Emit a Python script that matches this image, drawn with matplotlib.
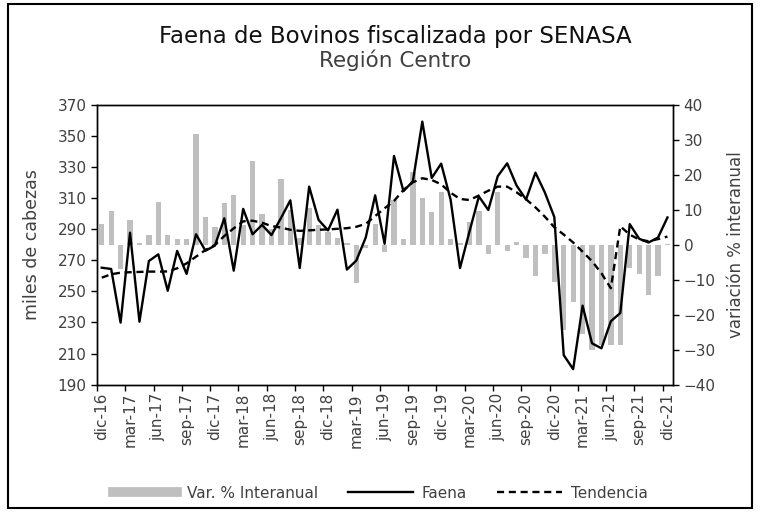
import numpy as np
import matplotlib
matplotlib.use("Agg")
import matplotlib.pyplot as plt
from matplotlib.lines import Line2D
from matplotlib.patches import Rectangle

plt.rcParams['font.family'] = ['DejaVu Sans']

# Monthly data, dic-16 .. dic-21
faena = [265.2, 264.4, 229.9, 287.7, 230.5, 269.5, 273.8, 250.4, 276.0, 261.2,
         286.7, 276.1, 279.4, 297.0, 263.3, 303.0, 286.7, 292.7, 286.2, 297.0,
         308.5, 265.0, 317.3, 295.9, 289.2, 302.5, 264.0, 269.8, 284.6, 311.7,
         280.6, 337.0, 314.4, 320.7, 359.1, 322.9, 332.1, 309.0, 265.0, 288.4,
         311.0, 302.3, 324.0, 332.3, 318.0, 309.0, 326.3, 313.5, 297.8, 209.0,
         200.0, 240.8, 216.6, 213.4, 230.8, 236.1, 293.2, 283.8, 281.4, 284.6,
         297.5]

tendencia = [258.8, 261.0, 262.0, 262.3, 262.5, 262.7, 262.7, 262.8, 264.8, 268.0,
             272.3, 276.6, 279.8, 285.6, 290.5, 295.0, 295.4, 294.1, 292.0, 291.0,
             289.6, 288.9, 289.2, 289.6, 289.8, 290.2, 290.6, 291.5, 293.4, 298.4,
             303.4, 308.1, 315.2, 320.1, 322.7, 321.6, 318.8, 313.4, 309.4, 308.7,
             311.6, 314.7, 317.3, 317.3, 313.7, 309.2, 304.0, 298.0, 291.2, 286.5,
             281.4, 275.5, 269.4, 261.6, 252.0, 291.8, 286.5, 283.3, 282.2, 283.6,
             285.2]

var_interanual = [6.0, 9.6, -7.0, 7.1, 0.6, 2.7, 12.2, 2.7, 1.6, 1.6,
                  31.5, 7.8, 5.1, 11.8, 14.3, 5.6, 23.8, 8.9, 4.5, 18.7,
                  10.0, 1.8, 10.4, 5.5, 3.7, 1.8, 0.4, -10.9, -1.0, 5.8,
                  -2.0, 12.7, 1.5, 20.9, 13.3, 9.2, 15.1, 1.5, 0.5, 6.6,
                  9.6, -2.7, 15.1, -1.7, 0.8, -3.9, -9.0, -2.8, -10.6, -24.4,
                  -16.3, -25.5, -30.1, -28.7, -28.7, -28.7, -6.7, -8.5, -14.3, -8.9,
                  0.3]

tick_labels = ['dic-16', 'mar-17', 'jun-17', 'sep-17', 'dic-17', 'mar-18', 'jun-18',
               'sep-18', 'dic-18', 'mar-19', 'jun-19', 'sep-19', 'dic-19', 'mar-20',
               'jun-20', 'sep-20', 'dic-20', 'mar-21', 'jun-21', 'sep-21', 'dic-21']

txt = '#404040'
x = np.arange(len(faena))

fig = plt.figure(figsize=(7.61, 5.12), dpi=100)
ax = fig.add_axes([0.1275, 0.2486, 0.757, 0.547])
ax2 = ax.twinx()

# bars on the right axis, lines on top on the left axis
ax2.bar(x, var_interanual, width=0.56, color='#BFBFBF', zorder=1)
ax.set_zorder(ax2.get_zorder() + 1)
ax.patch.set_visible(False)

ax.plot(x, faena, color='black', lw=1.7, zorder=3)
ax.plot(x, tendencia, color='black', lw=1.7, ls=(0, (3, 2)), zorder=3)

ax.set_ylim(190, 370)
ax.set_yticks(np.arange(190, 371, 20))
ax2.set_ylim(-40, 40)
ax2.set_yticks(np.arange(-40, 41, 10))
ax.set_xlim(-0.5, 60.6)

ax.set_xticks(x[::3])
ax.set_xticklabels(tick_labels, rotation=90)
ax.set_xticks(np.arange(-0.5, 60, 3), minor=True)
ax.tick_params(axis='x', which='major', length=0, pad=6, labelsize=11, colors=txt)
ax.tick_params(axis='x', which='minor', length=4, width=1)
ax.tick_params(axis='y', length=4, width=1, labelsize=11, colors=txt)
ax2.tick_params(axis='y', length=4, width=1, labelsize=11, colors=txt)
for a in (ax, ax2):
    for s in a.spines.values():
        s.set_linewidth(1.0)
        s.set_color('black')
    a.tick_params(axis='both', color='black')

ax.set_ylabel('miles de cabezas', fontsize=12.5, color=txt, labelpad=12)
ax2.set_ylabel('variación % interanual', fontsize=12, color=txt, labelpad=8)

fig.text(0.519, 0.928, 'Faena de Bovinos fiscalizada por SENASA', ha='center',
         va='center', fontsize=16.5, color='#111111')
fig.text(0.519, 0.883, 'Región Centro', ha='center', va='center', fontsize=15.5, color=txt)

handles = [Line2D([], [], color='#BFBFBF', lw=7),
           Line2D([], [], color='black', lw=1.7),
           Line2D([], [], color='black', lw=1.7, ls=(0, (3, 2)))]
fig.legend(handles, ['Var. % Interanual', 'Faena', 'Tendencia'], loc='center',
           bbox_to_anchor=(0.5, 0.037), ncol=3, frameon=False, fontsize=11,
           handlelength=4.2, handletextpad=0.6, columnspacing=2.0, labelcolor=txt)

fig.patches.append(Rectangle((0.011, 0.008), 0.977, 0.985, transform=fig.transFigure,
                             fill=False, edgecolor='black', lw=1.5))

fig.savefig('out.png', dpi=100)
